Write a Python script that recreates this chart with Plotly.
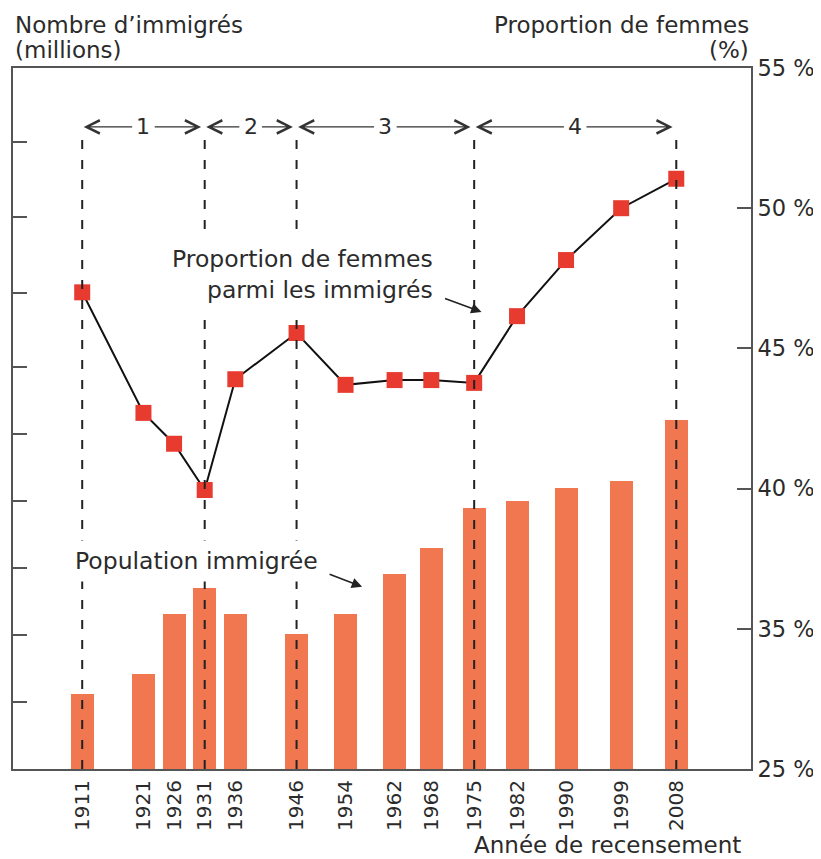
import plotly.graph_objects as go

# ---- data ----
years = [1911, 1921, 1926, 1931, 1936, 1946, 1954, 1962, 1968, 1975, 1982, 1990, 1999, 2008]
immigrants_millions = [1.12, 1.42, 2.31, 2.70, 2.31, 2.01, 2.31, 2.91, 3.30, 3.90, 4.00, 4.19, 4.30, 5.21]
women_pct = [47.0, 42.7, 41.6, 39.95, 43.9, 45.55, 43.7, 43.87, 43.87, 43.77, 46.15, 48.15, 50.0, 51.05]

period_bounds = [1911, 1931, 1946, 1975, 2008]
period_labels = ["1", "2", "3", "4"]

right_tickvals = [30, 35, 40, 45, 50, 55]
right_ticktext = ["25 %", "35 %", "40 %", "45 %", "50 %", "55 %"]
left_tickvals = [1, 2, 3, 4, 5, 6, 7.1, 8.24, 9.36]

FONT = "DejaVu Sans"
TXT = "#2b2b2b"
AX = "#555555"
BAR = "#F0774F"
MK = "#E63B2E"

fig = go.Figure()

fig.add_trace(go.Bar(
    x=years, y=immigrants_millions, width=3.75,
    marker=dict(color=BAR, line=dict(width=0)),
    yaxis="y", showlegend=False, hoverinfo="x+y"))

fig.add_trace(go.Scatter(
    x=years, y=women_pct, mode="lines+markers", yaxis="y2",
    line=dict(color="#111111", width=2),
    marker=dict(symbol="square", size=16, color=MK),
    showlegend=False, cliponaxis=False))

shapes = []
for b in period_bounds:
    shapes.append(dict(type="line", xref="x", yref="paper", x0=b, x1=b, y0=0, y1=0.912,
                       line=dict(color="#222222", width=2, dash="9px,11px"), layer="above"))

annotations = []
ARROW_Y = 0.916
for i, lab in enumerate(period_labels):
    a, b = period_bounds[i], period_bounds[i + 1]
    mid = (a + b) / 2
    annotations.append(dict(x=mid, y=ARROW_Y, xref="x", yref="paper", text=lab, showarrow=False,
                            font=dict(family=FONT, size=22, color=TXT), yanchor="middle"))
    for head, tail in ((a + 0.25, mid - 1.6), (b - 0.6, mid + 1.6)):
        annotations.append(dict(x=head, y=ARROW_Y, xref="x", yref="paper",
                                ax=tail, ay=0, axref="x", ayref="pixel",
                                text="", showarrow=True, arrowhead=5, arrowsize=2.0,
                                arrowwidth=1.3, arrowcolor="#333333", standoff=0))

# text labels inside the plot (white background hides the dashed lines)
annotations.append(dict(x=1969.5, y=47.65, xref="x", yref="y2", xanchor="right", yanchor="middle",
                        text="Proportion de femmes<br>parmi les immigrés", align="right",
                        showarrow=False, bgcolor="white", borderpad=6,
                        font=dict(family=FONT, size=23.5, color=TXT)))
annotations.append(dict(x=1976.2, y=46.3, xref="x", yref="y2", ax=-38, ay=-14,
                        text="", showarrow=True, arrowhead=2, arrowsize=1.3, arrowwidth=1.6,
                        arrowcolor="#222222", standoff=0))
annotations.append(dict(x=1929.7, y=3.10, xref="x", yref="y", xanchor="center", yanchor="middle",
                        text="Population immigrée", showarrow=False, bgcolor="white", borderpad=6,
                        font=dict(family=FONT, size=23.5, color=TXT)))
annotations.append(dict(x=1956.7, y=2.72, xref="x", yref="y", ax=-34, ay=-13,
                        text="", showarrow=True, arrowhead=2, arrowsize=1.3, arrowwidth=1.6,
                        arrowcolor="#222222", standoff=0))

# axis titles (one annotation per line to control spacing)
title_font = dict(family=FONT, size=23, color=TXT)
annotations += [
    dict(x=0, y=1.0613, xref="paper", yref="paper", xanchor="left", yanchor="middle",
         text="Nombre d’immigrés", showarrow=False, font=title_font),
    dict(x=0, y=1.0257, xref="paper", yref="paper", xanchor="left", yanchor="middle",
         text="(millions)", showarrow=False, font=title_font),
    dict(x=1.0, y=1.0613, xref="paper", yref="paper", xanchor="right", yanchor="middle",
         text="Proportion de femmes", showarrow=False, font=title_font),
    dict(x=1.0, y=1.0257, xref="paper", yref="paper", xanchor="right", yanchor="middle",
         text="(%)", showarrow=False, font=title_font),
    dict(x=0.989, y=-0.108, xref="paper", yref="paper", xanchor="right", yanchor="middle",
         text="Année de recensement", showarrow=False, font=title_font),
]

fig.update_layout(
    width=813, height=851,
    margin=dict(l=5, r=70, t=60, b=90),
    paper_bgcolor="white", plot_bgcolor="white",
    font=dict(family=FONT, color=TXT),
    shapes=shapes, annotations=annotations,
    bargap=0,
    xaxis=dict(range=[1899.7, 2020.2], tickvals=years, ticktext=[str(y) for y in years],
               tickangle=-90, tickfont=dict(family=FONT, size=20, color=TXT),
               showgrid=False, zeroline=False, showline=True, linecolor=AX, linewidth=2,
               mirror=True, ticks="", ticklabelstandoff=1),
    yaxis=dict(range=[0, 10.463], tickvals=left_tickvals, showticklabels=False,
               ticks="inside", ticklen=14, tickwidth=2, tickcolor=AX,
               showgrid=False, zeroline=False, showline=True, linecolor=AX, linewidth=2),
    yaxis2=dict(range=[30, 55], overlaying="y", side="right", tickvals=right_tickvals,
                ticktext=right_ticktext, ticks="inside", ticklen=14, tickwidth=2, tickcolor=AX,
                tickfont=dict(family=FONT, size=22.5, color=TXT),
                showgrid=False, zeroline=False, showline=True, linecolor=AX, linewidth=2),
)

fig.write_html("out.html")
